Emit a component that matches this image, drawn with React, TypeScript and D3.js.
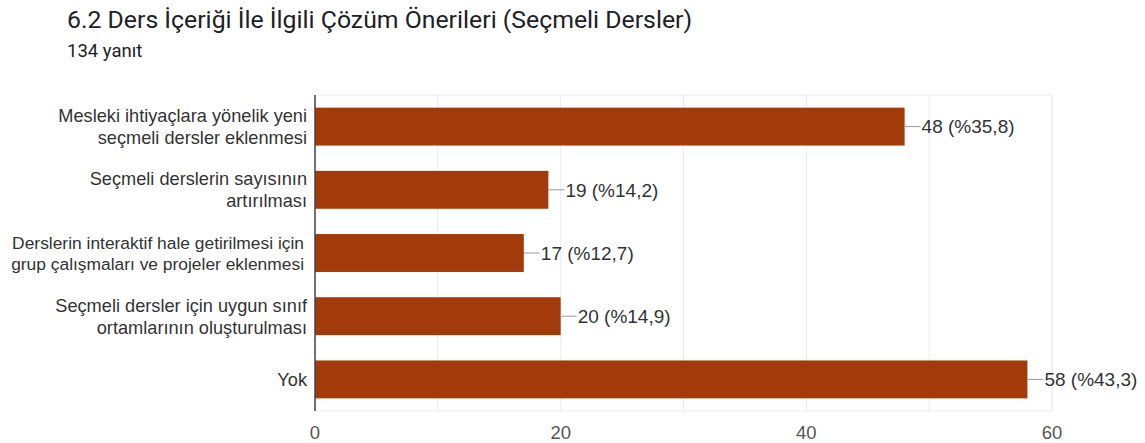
import React, { useEffect, useRef } from 'react';
import * as d3 from 'd3';

// chart values
const categories = [
  ['Mesleki ihtiyaçlara yönelik yeni', 'seçmeli dersler eklenmesi'],
  ['Seçmeli derslerin sayısının', 'artırılması'],
  ['Derslerin interaktif hale getirilmesi için', 'grup çalışmaları ve projeler eklenmesi'],
  ['Seçmeli dersler için uygun sınıf', 'ortamlarının oluşturulması'],
  ['Yok'],
];
// the long third label is drawn a bit smaller in the reference
const labelSizes = [18.2, 18.2, 17.4, 18.2, 18.2];
const counts = [48, 19, 17, 20, 58];
const percents = ['35,8', '14,2', '12,7', '14,9', '43,3'];
const xTicks = [0, 20, 40, 60];
const gridTicks = [10, 20, 30, 40, 50, 60];

const W = 1145;
const H = 443;
const margin = { top: 95, right: 93, bottom: 32, left: 315 };

const App = () => {
  const chartRef = useRef<SVGGElement>(null);

  useEffect(() => {
    const svg = d3.select(chartRef.current);
    svg.selectAll('*').remove();

    const x = d3.scaleLinear().domain([0, 60]).range([margin.left, W - margin.right]);
    const y = d3
      .scaleBand<number>()
      .domain(counts.map((_, i) => i))
      .range([margin.top, H - margin.bottom])
      .paddingInner(0.4)
      .paddingOuter(0.2);

    const font = '"Liberation Sans", Arial, sans-serif';
    const fs = 18.5;

    // frame + grid
    svg
      .append('rect')
      .attr('x', margin.left)
      .attr('y', margin.top)
      .attr('width', x(60) - margin.left)
      .attr('height', H - margin.bottom - margin.top)
      .attr('fill', 'none')
      .attr('stroke', '#ebebeb');
    svg
      .append('g')
      .selectAll('line')
      .data(gridTicks)
      .join('line')
      .attr('x1', (d) => x(d))
      .attr('x2', (d) => x(d))
      .attr('y1', margin.top)
      .attr('y2', H - margin.bottom)
      .attr('stroke', '#ebebeb');

    // bars
    svg
      .append('g')
      .selectAll('rect')
      .data(counts)
      .join('rect')
      .attr('x', x(0))
      .attr('y', (_, i) => y(i)!)
      .attr('width', (d) => x(d) - x(0))
      .attr('height', y.bandwidth())
      .attr('fill', '#a23a09');

    // leader lines + value labels
    const lab = svg.append('g').selectAll('g').data(counts).join('g');
    lab
      .append('line')
      .attr('x1', (d) => x(d))
      .attr('x2', (d) => x(d) + 16)
      .attr('y1', (_, i) => y(i)! + y.bandwidth() / 2)
      .attr('y2', (_, i) => y(i)! + y.bandwidth() / 2)
      .attr('stroke', '#999');
    lab
      .append('text')
      .attr('x', (d) => x(d) + 17)
      .attr('y', (_, i) => y(i)! + y.bandwidth() / 2)
      .attr('dy', '0.36em')
      .attr('font-family', font)
      .attr('font-size', 19)
      .attr('fill', '#333')
      .text((d, i) => `${d} (%${percents[i]})`);

    // category labels
    const cat = svg
      .append('g')
      .selectAll('text')
      .data(categories)
      .join('text')
      .attr('text-anchor', 'end')
      .attr('font-family', font)
      .attr('font-size', (_, i) => labelSizes[i])
      .attr('fill', '#333')
      .attr('y', (_, i) => y(i)! + y.bandwidth() / 2);
    cat
      .selectAll('tspan')
      .data((d) => d.map((t, j) => ({ t, j, n: d.length })))
      .join('tspan')
      .attr('x', (d) => margin.left - (d.t.length > 36 ? 11 : 8))
      .attr('dy', (d) => (d.j === 0 ? `${0.36 - (d.n - 1) * 0.6}em` : '1.2em'))
      .text((d) => d.t);

    // y axis line
    svg
      .append('line')
      .attr('x1', margin.left)
      .attr('x2', margin.left)
      .attr('y1', margin.top)
      .attr('y2', H - margin.bottom)
      .attr('stroke', '#444')
      .attr('stroke-width', 1.5);

    // x tick labels
    svg
      .append('g')
      .selectAll('text')
      .data(xTicks)
      .join('text')
      .attr('x', (d) => x(d))
      .attr('y', 439)
      .attr('text-anchor', 'middle')
      .attr('font-family', font)
      .attr('font-size', fs)
      .attr('fill', '#555')
      .text((d) => d);
  }, []);

  return (
    <svg width={W} height={H} style={{ position: 'absolute', left: 0, top: 0, background: '#fff' }}>
      <text x={67} y={28} fontFamily="Roboto, sans-serif" fontSize={24.8} fill="#202124">
        6.2 Ders İçeriği İle İlgili Çözüm Önerileri (Seçmeli Dersler)
      </text>
      <text x={67} y={57} fontFamily="Roboto, sans-serif" fontSize={18.5} fill="#202124">
        134 yanıt
      </text>
      <g ref={chartRef} />
    </svg>
  );
};

export default App;
